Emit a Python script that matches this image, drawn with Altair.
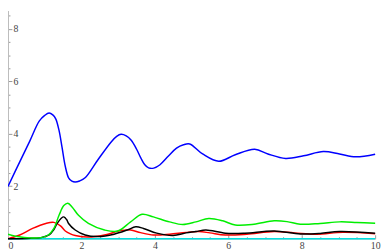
import altair as alt
import pandas as pd

blue_x = [0, 0.32, 0.59, 0.85, 1.0, 1.12, 1.22, 1.3, 1.39, 1.47, 1.56, 1.65, 1.74, 1.83, 1.95, 2.1, 2.45, 2.81, 2.96, 3.08, 3.22, 3.35, 3.5, 3.62, 3.72, 3.83, 3.97, 4.14, 4.37, 4.59, 4.78, 4.95, 5.3, 5.74, 6.19, 6.72, 7.08, 7.56, 8.05, 8.59, 9.03, 9.47, 10]
blue_y = [1.99, 2.93, 3.71, 4.48, 4.7, 4.79, 4.72, 4.57, 4.13, 3.5, 2.76, 2.32, 2.19, 2.16, 2.2, 2.32, 3.01, 3.69, 3.9, 3.98, 3.92, 3.76, 3.42, 3.07, 2.83, 2.7, 2.69, 2.82, 3.15, 3.45, 3.58, 3.61, 3.23, 2.95, 3.2, 3.41, 3.23, 3.06, 3.16, 3.32, 3.23, 3.12, 3.22]

green_x = [0, 0.3, 0.6, 0.9, 1.1, 1.25, 1.39, 1.52, 1.63, 1.75, 1.92, 2.19, 2.63, 2.99, 3.34, 3.65, 3.96, 4.4, 4.76, 5.12, 5.47, 5.85, 6.19, 6.7, 7.25, 7.6, 7.96, 8.5, 9.03, 9.5, 10]
green_y = [0.17, 0.07, 0.03, 0.04, 0.14, 0.39, 0.89, 1.26, 1.35, 1.2, 0.89, 0.58, 0.33, 0.29, 0.64, 0.93, 0.83, 0.64, 0.54, 0.64, 0.77, 0.68, 0.52, 0.55, 0.68, 0.65, 0.55, 0.58, 0.64, 0.62, 0.59]

red_x = [0, 0.32, 0.67, 1.03, 1.25, 1.43, 1.56, 1.7, 1.83, 2.19, 2.63, 3.08, 3.34, 3.61, 3.96, 4.4, 4.85, 5.2, 5.5, 5.92, 6.5, 7.25, 7.8, 8.41, 9.12, 10]
red_y = [0.0, 0.14, 0.39, 0.58, 0.62, 0.49, 0.29, 0.18, 0.12, 0.06, 0.14, 0.31, 0.33, 0.23, 0.14, 0.17, 0.24, 0.27, 0.22, 0.14, 0.17, 0.27, 0.22, 0.17, 0.24, 0.19]

black_x = [0, 0.5, 0.9, 1.12, 1.25, 1.34, 1.45, 1.52, 1.6, 1.65, 1.83, 2.1, 2.45, 2.89, 3.25, 3.48, 3.69, 4.05, 4.5, 4.85, 5.12, 5.39, 5.92, 6.45, 7.25, 7.96, 8.5, 9.03, 10]
black_y = [0.0, 0.01, 0.04, 0.14, 0.35, 0.58, 0.78, 0.83, 0.72, 0.58, 0.33, 0.14, 0.08, 0.17, 0.33, 0.45, 0.39, 0.21, 0.12, 0.22, 0.27, 0.33, 0.21, 0.21, 0.29, 0.18, 0.2, 0.27, 0.21]

cyan_x = [0, 10]
cyan_y = [0.0, 0.0]

series = [
    ("cyan", cyan_x, cyan_y, "#00e0e0"),
    ("red", red_x, red_y, "#ff0000"),
    ("black", black_x, black_y, "#000000"),
    ("green", green_x, green_y, "#00ee00"),
    ("blue", blue_x, blue_y, "#0000ff"),
]

x_ticks = [i * 0.5 for i in range(0, 21)]
y_ticks = [i * 0.5 for i in range(0, 18)]

rows = []
for name, xs, ys, col in series:
    for i, (a, b) in enumerate(zip(xs, ys)):
        rows.append({"s": name, "x": a, "y": b, "o": i})
df = pd.DataFrame(rows)

xscale = alt.Scale(domain=[0, 10], nice=False, zero=False)
yscale = alt.Scale(domain=[0, 8.7], nice=False, zero=False)

xaxis = alt.Axis(
    values=x_ticks, title=None, grid=False,
    labelExpr="datum.value % 2 === 0 ? format(datum.value, 'd') : ''",
    tickSize={"expr": "datum.value % 2 === 0 ? -4 : -2"},
    tickColor="#999999", domainColor="#bbbbbb",
    labelFont="Liberation Serif", labelFontSize=10, labelColor="#444444",
    labelPadding=6, labelFlush=False,
    labelAlign={"expr": "datum.value === 0 ? 'left' : 'center'"},
)
yaxis = alt.Axis(
    values=y_ticks, title=None, grid=False,
    labelExpr="datum.value % 2 === 0 && datum.value > 0 ? format(datum.value, 'd') : ''",
    tickSize={"expr": "datum.value % 2 === 0 ? -4 : -2"},
    tickColor="#999999", domainColor="#bbbbbb",
    labelFont="Liberation Serif", labelFontSize=10, labelColor="#444444",
    labelAlign="left", labelPadding=-1, labelFlush=False,
)

chart = alt.Chart(df).mark_line(strokeWidth=1.5, interpolate="catmull-rom").encode(
    x=alt.X("x:Q", scale=xscale, axis=xaxis),
    y=alt.Y("y:Q", scale=yscale, axis=yaxis),
    color=alt.Color("s:N", scale=alt.Scale(domain=[s[0] for s in series], range=[s[3] for s in series]), legend=None),
    order="o:Q",
).properties(
    width=375, height=233,
    autosize=alt.AutoSizeParams(type="none"),
    padding={"left": 0, "top": 0, "right": 7, "bottom": 9},
).configure_view(stroke=None).configure_axis(labelFont="Liberation Serif")

chart.save("out.html", embed_options={"renderer": "svg", "actions": False})
